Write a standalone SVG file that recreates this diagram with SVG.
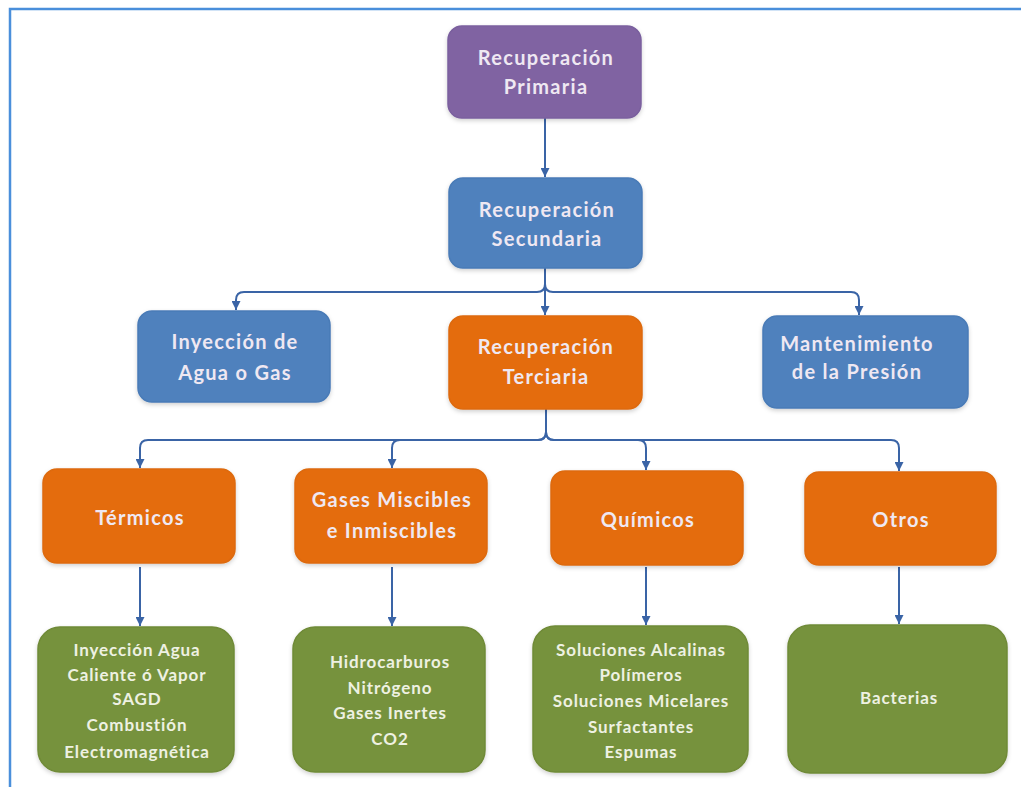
<svg xmlns="http://www.w3.org/2000/svg" width="1021" height="787" viewBox="0 0 1021 787">
<defs>
<marker id="ah" viewBox="0 0 10 10" refX="10" refY="5" markerWidth="10" markerHeight="9" markerUnits="userSpaceOnUse" orient="auto">
<path d="M0,0 L10,5 L0,10 Z" fill="#3A64A6"/>
</marker>
<filter id="sh" x="-10%" y="-10%" width="120%" height="130%">
<feDropShadow dx="0" dy="2" stdDeviation="2" flood-color="#000" flood-opacity="0.18"/>
</filter>
</defs>
<style>
.box{filter:url(#sh);stroke-width:1.5}
.pu{fill:#8064A2;stroke:#7A5F9E}
.bl{fill:#4F81BD;stroke:#4A7BB7}
.or{fill:#E46C0A;stroke:#DD6A0D}
.gr{fill:#76923C;stroke:#6F8A37}
.t{font-family:Lato,"Open Sans","Liberation Sans",sans-serif;font-weight:bold;font-size:20px;fill:#EFE8F2;text-anchor:middle;letter-spacing:1.3px}
.s{font-family:Lato,"Open Sans","Liberation Sans",sans-serif;font-weight:bold;font-size:17px;fill:#EEF1E2;text-anchor:middle;letter-spacing:0.9px}
.c{fill:none;stroke:#3A64A6;stroke-width:2}
</style>
<rect width="1021" height="787" fill="#fff"/>
<path d="M10,787 V9 H1021" fill="none" stroke="#4A8FDB" stroke-width="2.5"/>

<g id="connectors">
<path class="c" d="M545,118 V177" marker-end="url(#ah)"/>
<path class="c" d="M545,268 V315" marker-end="url(#ah)"/>
<path class="c" d="M545,268 V284 Q545,292 537,292 H244 Q236,292 236,300 V310" marker-end="url(#ah)"/>
<path class="c" d="M545,268 V284 Q545,292 553,292 H851 Q859,292 859,300 V315" marker-end="url(#ah)"/>
<path class="c" d="M546,409 V432 Q546,440 538,440 H148 Q140,440 140,448 V468" marker-end="url(#ah)"/>
<path class="c" d="M546,409 V432 Q546,440 538,440 H400 Q392,440 392,448 V468" marker-end="url(#ah)"/>
<path class="c" d="M546,409 V432 Q546,440 554,440 H638 Q646,440 646,448 V470" marker-end="url(#ah)"/>
<path class="c" d="M546,409 V432 Q546,440 554,440 H891 Q899,440 899,448 V471" marker-end="url(#ah)"/>
<path class="c" d="M140,567 V626" marker-end="url(#ah)"/>
<path class="c" d="M392,567 V626" marker-end="url(#ah)"/>
<path class="c" d="M646,567 V625" marker-end="url(#ah)"/>
<path class="c" d="M899,567 V624" marker-end="url(#ah)"/>
</g>

<g id="primaria">
<rect class="box pu" x="448" y="26" width="193" height="92" rx="14"/>
<text class="t" x="546" y="65">Recuperación</text>
<text class="t" x="546" y="94">Primaria</text>
</g>
<g id="secundaria">
<rect class="box bl" x="449" y="178" width="193" height="90" rx="14"/>
<text class="t" x="547" y="217">Recuperación</text>
<text class="t" x="547" y="246">Secundaria</text>
</g>
<g id="inyeccion">
<rect class="box bl" x="138" y="311" width="192" height="91" rx="14"/>
<text class="t" x="235" y="349">Inyección de</text>
<text class="t" x="235" y="380">Agua o Gas</text>
</g>
<g id="terciaria">
<rect class="box or" x="449" y="316" width="193" height="93" rx="14"/>
<text class="t" x="546" y="354">Recuperación</text>
<text class="t" x="546" y="384">Terciaria</text>
</g>
<g id="mantenimiento">
<rect class="box bl" x="763" y="316" width="205" height="92" rx="14"/>
<text class="t" x="857" y="351">Mantenimiento</text>
<text class="t" x="857" y="379">de la Presión</text>
</g>
<g id="termicos">
<rect class="box or" x="43" y="469" width="192" height="94" rx="14"/>
<text class="t" x="140" y="525">Térmicos</text>
</g>
<g id="gases">
<rect class="box or" x="295" y="469" width="192" height="94" rx="14"/>
<text class="t" x="392" y="507">Gases Miscibles</text>
<text class="t" x="392" y="538">e Inmiscibles</text>
</g>
<g id="quimicos">
<rect class="box or" x="551" y="471" width="192" height="94" rx="14"/>
<text class="t" x="648" y="527">Químicos</text>
</g>
<g id="otros">
<rect class="box or" x="805" y="472" width="191" height="93" rx="14"/>
<text class="t" x="901" y="527">Otros</text>
</g>
<g id="termicos-detalle">
<rect class="box gr" x="38" y="627" width="196" height="145" rx="22"/>
<text class="s" x="137" y="656">Inyección Agua</text>
<text class="s" x="137" y="681">Caliente ó Vapor</text>
<text class="s" x="137" y="705">SAGD</text>
<text class="s" x="137" y="731">Combustión</text>
<text class="s" x="137" y="758">Electromagnética</text>
</g>
<g id="gases-detalle">
<rect class="box gr" x="293" y="627" width="192" height="145" rx="22"/>
<text class="s" x="390" y="668">Hidrocarburos</text>
<text class="s" x="390" y="694">Nitrógeno</text>
<text class="s" x="390" y="719">Gases Inertes</text>
<text class="s" x="390" y="745">CO2</text>
</g>
<g id="quimicos-detalle">
<rect class="box gr" x="533" y="626" width="215" height="146" rx="22"/>
<text class="s" x="641" y="656">Soluciones Alcalinas</text>
<text class="s" x="641" y="681">Polímeros</text>
<text class="s" x="641" y="707">Soluciones Micelares</text>
<text class="s" x="641" y="733">Surfactantes</text>
<text class="s" x="641" y="758">Espumas</text>
</g>
<g id="otros-detalle">
<rect class="box gr" x="788" y="625" width="219" height="148" rx="22"/>
<text class="s" x="899" y="704">Bacterias</text>
</g>
</svg>
